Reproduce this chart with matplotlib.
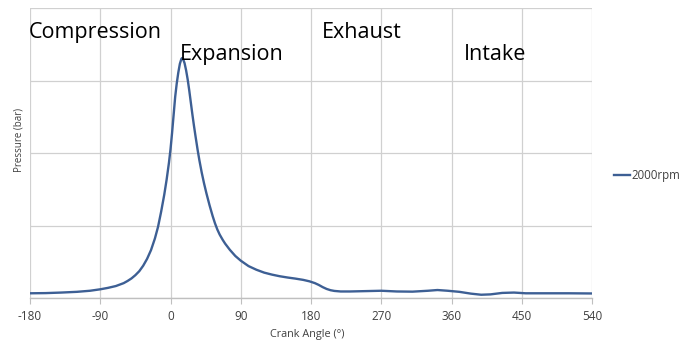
import matplotlib.pyplot as plt

# crank angle (deg) and cylinder pressure (bar)
angle = [-180, -160, -140, -120, -103, -90, -80, -70, -60, -55, -50, -45,
         -40, -35, -30, -25, -20, -16, -12, -8, -5, -2, 0, 2, 4, 6, 8, 10,
         12, 14, 15, 16, 18, 20, 22, 24, 26, 28, 30, 32, 34.8, 37, 40, 43,
         46, 50, 54, 57, 60, 63, 67, 70, 76, 83, 90, 100, 110, 120, 130,
         140, 150, 160, 170, 178, 185, 190, 195, 200, 205, 210, 218, 230,
         250, 270, 290, 310, 330, 342, 355, 370, 385, 398, 410, 425, 440,
         455, 480, 510, 540]
pressure = [1.3, 1.35, 1.5, 1.7, 2.0, 2.4, 2.8, 3.3, 4.1, 4.7, 5.4, 6.3,
            7.4, 8.9, 10.8, 13.2, 16.4, 19.6, 23.8, 28.5, 32.6, 37.3, 41, 45.5, 50.5, 55.5, 59.2, 62.2,
            64.6, 66.0, 66.2, 66.0, 64.8, 62.8, 60.3, 57.3, 54.0, 50.7, 47.6, 44.7, 40.8, 38.0, 34.6, 31.6,
            28.9, 25.6, 22.6, 20.6, 18.9, 17.5, 16.0, 15.0, 13.3, 11.6, 10.3, 8.8, 7.8, 7.0, 6.45,
            6.0, 5.65, 5.35, 5.0, 4.6, 4.1, 3.6, 3.0, 2.5, 2.15, 1.95, 1.8, 1.8,
            1.9, 2.0, 1.8, 1.75, 2.0, 2.2, 2.0, 1.7, 1.2, 0.9, 1.0, 1.4, 1.5,
            1.3, 1.3, 1.3, 1.25]

phases = ["Compression", "Expansion", "Exhaust", "Intake"]
phase_x = [-182, 12, 194, 376]
phase_y = [71.7, 65.7, 71.7, 65.7]

xticks = [-180, -90, 0, 90, 180, 270, 360, 450, 540]

plt.rcParams['font.family'] = ['Open Sans', 'DejaVu Sans']

fig = plt.figure(figsize=(6.98, 3.45), dpi=100)
ax = fig.add_axes([30 / 698, 1 - 298 / 345, 562 / 698, 290 / 345])

ax.plot(angle, pressure, color='#3d5f94', lw=1.7, label='2000rpm',
        solid_joinstyle='round')

ax.set_xlim(-180, 540)
ax.set_ylim(0, 80)
ax.set_xticks(xticks)
ax.set_xticklabels([str(t) for t in xticks], fontsize=8.5, color='#404040')
ax.set_yticks([0, 20, 40, 60, 80])
ax.set_yticklabels([])
ax.tick_params(axis='y', length=0)
ax.tick_params(axis='x', length=4, color='#bfbfbf', pad=5)
ax.grid(True, color='#d0d0d0', lw=0.9)
for s in ['left', 'right', 'top']:
    ax.spines[s].set_visible(False)
ax.spines['bottom'].set_color('#bfbfbf')
ax.spines['bottom'].set_linewidth(1.0)

for name, px, py in zip(phases, phase_x, phase_y):
    ax.text(px, py, name, fontsize=15.5, color='black', va='baseline', ha='left')

fig.text(19 / 698, 1 - 140 / 345, 'Pressure (bar)', rotation=90, fontsize=7,
         color='#404040', ha='center', va='center')
fig.text(307 / 698, 1 - 335 / 345, 'Crank Angle (°)', fontsize=7.8,
         color='#404040', ha='center', va='center')

leg = ax.legend(loc='center left', bbox_to_anchor=(614 / 698, 1 - 176 / 345),
                bbox_transform=fig.transFigure, frameon=False, fontsize=8.3,
                handlelength=1.4, handletextpad=0.15, borderpad=0, borderaxespad=0)
for t in leg.get_texts():
    t.set_color('#404040')

fig.savefig('out.png', dpi=100)
